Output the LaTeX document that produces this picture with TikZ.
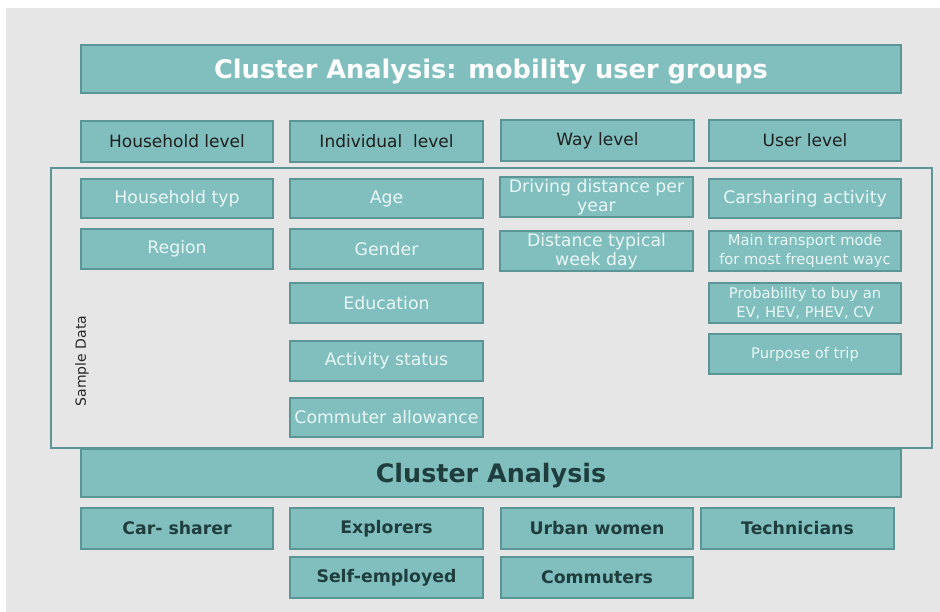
\documentclass[tikz,border=0pt]{standalone}
\usepackage{fontspec}
\setmainfont{DejaVu Sans}
\begin{document}
\definecolor{pagebg}{HTML}{E6E6E6}
\definecolor{cellfill}{HTML}{80BFBE}
\definecolor{cellline}{HTML}{5C9595}
\definecolor{darktext}{HTML}{1F3D3D}
\definecolor{lighttext}{HTML}{EAF6F6}
% \cell{name}{x1}{y1}{x2}{y2}{style}{text}: a box given by its corners in pixels
\newcommand{\cell}[7]{%
  \node[cellbox,#6,minimum width={#4pt-#2pt},minimum height={#5pt-#3pt}]
    (#1) at ({(#2+#4)/2},{(#3+#5)/2}) {#7};}
\begin{tikzpicture}[x=1pt,y=-1pt,
  cellbox/.style={draw=cellline,fill=cellfill,line width=1.6pt,inner sep=0pt,align=center},
  titletext/.style={font=\bfseries\fontsize{25.6}{30}\selectfont,text=white,text depth=0pt},
  leveltext/.style={font=\fontsize{17}{20}\selectfont,text=black!88},
  datatext/.style={font=\fontsize{17.3}{20}\selectfont,text=lighttext},
  smalldata/.style={font=\fontsize{14.7}{20}\selectfont,text=lighttext},
  bigdark/.style={font=\bfseries\fontsize{25.4}{30}\selectfont,text=darktext,text depth=0pt},
  grouptext/.style={font=\bfseries\fontsize{17.3}{20}\selectfont,text=darktext}]
\useasboundingbox (0,0) rectangle (940,612);
\fill[white] (0,0) rectangle (940,612);
\fill[pagebg] (6,8) rectangle (940,612);

% frame around the sample data
\draw[cellline,line width=1.5pt] (51,168) rectangle (932,448);
\node[font=\fontsize{14}{16}\selectfont,text=black!85,rotate=90] (sample) at (82,361) {Sample Data};

% heading
\cell{title}{81}{45}{901}{93}{titletext}{Cluster Analysis: mobility user groups}

% levels
\cell{hh}{81}{121}{273}{162}{leveltext}{Household level}
\cell{ind}{290}{121}{483}{162}{leveltext}{Individual\ \ level}
\cell{way}{501}{120}{694}{161}{leveltext}{Way level}
\cell{user}{709}{120}{901}{161}{leveltext}{User level}

% household variables
\cell{hhtyp}{81}{179}{273}{218}{datatext}{Household typ}
\cell{region}{81}{229}{273}{269}{datatext}{Region}

% individual variables
\cell{age}{290}{179}{483}{218}{datatext}{Age}
\cell{gender}{290}{229}{483}{269}{datatext}{Gender}
\cell{edu}{290}{283}{483}{323}{datatext}{Education}
\cell{act}{290}{341}{483}{381}{datatext}{Activity\ status}
\cell{comm}{290}{398}{483}{437}{datatext}{Commuter allowance}

% way variables
\cell{drive}{500}{177}{693}{217}{datatext}{Driving distance per\\[-1pt]year}
\cell{dist}{500}{231}{693}{271}{datatext}{Distance typical\\[-1pt]week day}

% user variables
\cell{cars}{709}{179}{901}{218}{datatext}{Carsharing\ activity}
\cell{mode}{709}{231}{901}{271}{smalldata}{Main transport mode\\[-1pt]for most frequent wayc}
\cell{prob}{709}{283}{901}{323}{smalldata}{Probability to buy an\\[-1pt]EV, HEV, PHEV, CV}
\cell{purp}{709}{334}{901}{374}{smalldata}{Purpose of trip}

% analysis and resulting groups
\cell{ca}{81}{449}{901}{497}{bigdark}{Cluster Analysis}
\cell{carsh}{81}{508}{273}{549}{grouptext}{Car- sharer}
\cell{expl}{290}{508}{483}{549}{grouptext}{Explorers}
\cell{urban}{501}{508}{693}{549}{grouptext}{Urban women}
\cell{tech}{701}{508}{894}{549}{grouptext}{Technicians}
\cell{self}{290}{557}{483}{598}{grouptext}{Self-employed}
\cell{commu}{501}{557}{693}{598}{grouptext}{Commuters}
\end{tikzpicture}
\end{document}
